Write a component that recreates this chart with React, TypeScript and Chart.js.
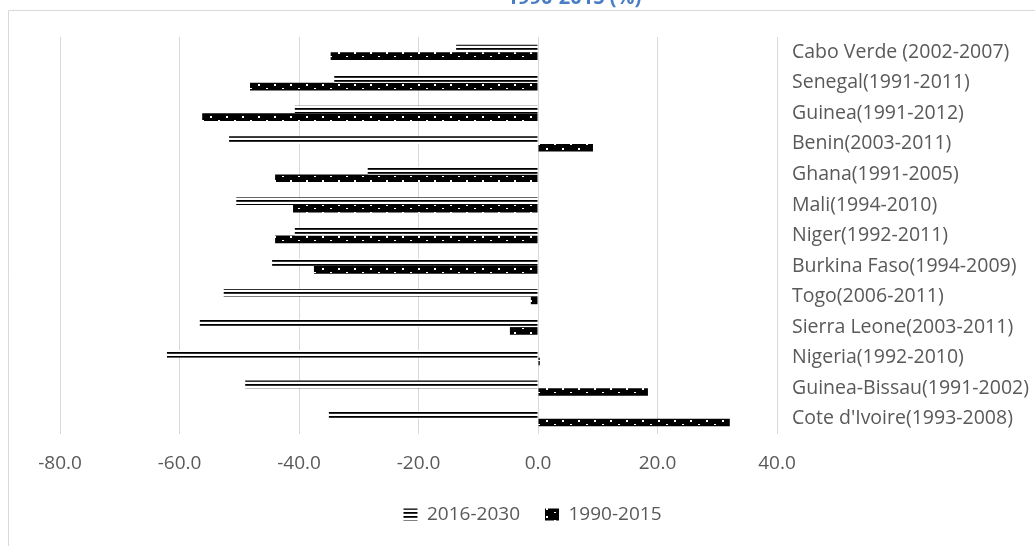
import React, { useEffect, useRef } from "react";
import { Chart, registerables } from "chart.js";

Chart.register(...registerables);

const categories = [
  "Cabo Verde (2002-2007)",
  "Senegal(1991-2011)",
  "Guinea(1991-2012)",
  "Benin(2003-2011)",
  "Ghana(1991-2005)",
  "Mali(1994-2010)",
  "Niger(1992-2011)",
  "Burkina Faso(1994-2009)",
  "Togo(2006-2011)",
  "Sierra Leone(2003-2011)",
  "Nigeria(1992-2010)",
  "Guinea-Bissau(1991-2002)",
  "Cote d'Ivoire(1993-2008)",
];

const series2016_2030 = [-13.7, -34.1, -40.7, -51.7, -28.5, -50.5, -40.7, -44.5, -52.6, -56.6, -62.1, -49.0, -35.0];
const series1990_2015 = [-34.7, -48.2, -56.2, 9.2, -44.0, -41.0, -44.0, -37.5, -1.2, -4.7, 0.3, 18.4, 32.1];

const seriesNames = ["2016-2030", "1990-2015"];
const titleText = "1990-2015 (%)";
const xMin = -80;
const xMax = 40;
const xStep = 20;

const FONT = "'Open Sans', 'Noto Sans', sans-serif";
const TEXT_COLOR = "#595959";
const GRID_COLOR = "#d9d9d9";

function makeLinesPattern(): CanvasPattern | string {
  const c = document.createElement("canvas");
  c.width = 4;
  c.height = 4;
  const g = c.getContext("2d");
  if (!g) return "#000";
  g.fillStyle = "#ffffff";
  g.fillRect(0, 0, 4, 4);
  g.fillStyle = "#000000";
  g.fillRect(0, 0, 4, 1);
  g.fillStyle = "#333333";
  g.fillRect(0, 1, 4, 1);
  const p = g.createPattern(c, "repeat");
  return p || "#000";
}

function makeDotsPattern(): CanvasPattern | string {
  const c = document.createElement("canvas");
  c.width = 16;
  c.height = 8;
  const g = c.getContext("2d");
  if (!g) return "#000";
  g.fillStyle = "#000000";
  g.fillRect(0, 0, 16, 8);
  g.fillStyle = "#ffffff";
  g.fillRect(2, 4, 2, 2);
  g.fillRect(10, 0, 2, 1);
  const p = g.createPattern(c, "repeat");
  return p || "#000";
}

const framePlugin = {
  id: "frameAndTitle",
  afterLayout(chart: any) {
    const l = chart.legend;
    if (l) {
      l.left -= 15;
      l.right -= 15;
    }
  },
  beforeDraw(chart: any) {
    const ctx = chart.ctx;
    ctx.save();
    ctx.strokeStyle = GRID_COLOR;
    ctx.lineWidth = 1;
    ctx.beginPath();
    ctx.moveTo(8.5, chart.height);
    ctx.lineTo(8.5, 10.5);
    ctx.lineTo(chart.width, 10.5);
    ctx.stroke();
    ctx.fillStyle = "#4A7EC4";
    ctx.font = "bold 20px " + FONT;
    ctx.textAlign = "center";
    ctx.textBaseline = "alphabetic";
    ctx.fillText(titleText, 574, 4);
    ctx.restore();
  },
};

export default function App() {
  const ref = useRef<HTMLCanvasElement | null>(null);

  useEffect(() => {
    if (!ref.current) return;
    const linesPat = makeLinesPattern();
    const dotsPat = makeDotsPattern();
    const chart = new Chart(ref.current, {
      type: "bar",
      data: {
        labels: categories,
        datasets: [
          {
            label: seriesNames[0],
            data: series2016_2030,
            backgroundColor: linesPat as any,
            borderWidth: 0,
            categoryPercentage: 0.5,
            barPercentage: 1.0,
          },
          {
            label: seriesNames[1],
            data: series1990_2015,
            backgroundColor: dotsPat as any,
            borderWidth: 0,
            categoryPercentage: 0.5,
            barPercentage: 1.0,
          },
        ],
      },
      options: {
        indexAxis: "y",
        animation: false,
        responsive: false,
        devicePixelRatio: 1,
        layout: { padding: { left: 60, right: 0, top: 37, bottom: 12 } },
        scales: {
          x: {
            type: "linear",
            min: xMin,
            max: xMax,
            ticks: {
              stepSize: xStep,
              padding: 18,
              color: TEXT_COLOR,
              font: { family: FONT, size: 19 },
              callback: (v: any) => Number(v).toFixed(1),
            },
            grid: { color: GRID_COLOR, lineWidth: 1, drawTicks: false },
            border: { display: false },
            afterFit: (s: any) => {
              s.height = 46;
            },
          },
          y: {
            position: "right",
            ticks: {
              padding: 15,
              color: TEXT_COLOR,
              font: { family: FONT, size: 19.5 },
            },
            grid: { display: false, drawTicks: false },
            border: { display: false },
            afterFit: (s: any) => {
              s.width = 258;
            },
          },
        },
        plugins: {
          legend: {
            position: "bottom",
            labels: {
              color: TEXT_COLOR,
              font: { family: FONT, size: 19 },
              boxWidth: 14,
              boxHeight: 12,
              padding: 25,
            },
          },
          tooltip: { enabled: false },
        },
      },
      plugins: [framePlugin],
    });
    return () => chart.destroy();
  }, []);

  return (
    <div style={{ position: "absolute", left: 0, top: 0, width: 1035, height: 546 }}>
      <canvas ref={ref} width={1035} height={546} />
    </div>
  );
}
